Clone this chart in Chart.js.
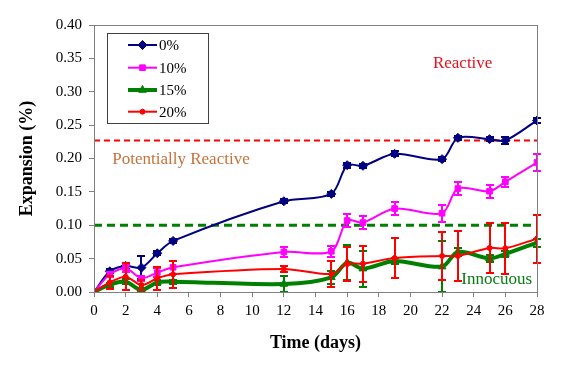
<!DOCTYPE html>
<html><head><meta charset="utf-8">
<script src="https://cdn.jsdelivr.net/npm/chart.js@4.4.0/dist/chart.umd.min.js"></script>
<style>html,body{margin:0;padding:0;background:#fff}</style>
</head><body>
<canvas id="c" width="576" height="366"></canvas>
<script>
// ---- data ----
const days   = [0, 1, 2, 3, 4, 5, 12, 15, 16, 17, 19, 22, 23, 25, 26, 28];
const exp0   = [0, 0.031, 0.039, 0.0365, 0.058, 0.0765, 0.136, 0.147, 0.190, 0.189, 0.207, 0.199, 0.231, 0.229, 0.227, 0.257];
const err0   = [0, 0.003, 0.005, 0.017, 0.003, 0.003, 0.003, 0.003, 0.004, 0.003, 0.004, 0.003, 0.003, 0.003, 0.005, 0.004];
const exp10  = [0, 0.0265, 0.0355, 0.0205, 0.029, 0.037, 0.060, 0.061, 0.107, 0.104, 0.125, 0.118, 0.155, 0.151, 0.165, 0.194];
const err10  = [0, 0.004, 0.005, 0.004, 0.007, 0.01, 0.007, 0.0085, 0.01, 0.01, 0.01, 0.0125, 0.01, 0.01, 0.007, 0.012];
const exp15  = [0, 0.011, 0.0155, 0.003, 0.0145, 0.0155, 0.012, 0.022, 0.044, 0.035, 0.0465, 0.038, 0.060, 0.0505, 0.057, 0.074];
const err15  = [0, 0.003, 0.004, 0.003, 0.004, 0.003, 0.012, 0.01, 0.026, 0.027, 0.005, 0.038, 0.006, 0.005, 0.005, 0.006];
const exp20  = [0, 0.0145, 0.023, 0.0105, 0.0205, 0.0265, 0.0345, 0.027, 0.042, 0.0425, 0.051, 0.054, 0.054, 0.066, 0.0655, 0.080];
const err20  = [0, 0.01, 0.02, 0.008, 0.017, 0.02, 0.004, 0.019, 0.025, 0.027, 0.03, 0.036, 0.037, 0.037, 0.038, 0.036];
const seriesNames = ['0%', '10%', '15%', '20%'];
const limitDays = [0, 28];
const reactiveLimit = [0.227, 0.227];
const innocuousLimit = [0.10, 0.10];
const labelTexts = ['Reactive', 'Potentially Reactive', 'Innocuous'];
const labelDays  = [23.3, 5.5, 25.45];
const labelExp   = [0.343, 0.1985, 0.018];
const yTitle = 'Expansion (%)';
const xTitle = 'Time (days)';

const FONT = "'Liberation Serif', 'Times New Roman', serif";
const pts = (arr) => days.map((d, i) => ({x: d, y: arr[i]}));
const line2 = (ys) => limitDays.map((d, i) => ({x: d, y: ys[i]}));

const series = [
  {label: seriesNames[0], data: pts(exp0), errors: err0, borderColor: '#000080', backgroundColor: '#000080', borderWidth: 2, pointStyle: 'rectRot', pointRadius: 4.5, order: 4},
  {label: seriesNames[1], data: pts(exp10), errors: err10, borderColor: '#FF00FF', backgroundColor: '#FF00FF', borderWidth: 2, pointStyle: 'rect', pointRadius: 4, order: 3},
  {label: seriesNames[2], data: pts(exp15), errors: err15, borderColor: '#008000', backgroundColor: '#008000', borderWidth: 4, pointStyle: 'triangle', pointRadius: 4.5, order: 2},
  {label: seriesNames[3], data: pts(exp20), errors: err20, borderColor: '#FF0000', backgroundColor: '#FF0000', borderWidth: 2, pointStyle: 'circle', pointRadius: 2.5, order: 1},
];
series.forEach(s => { s.tension = 0.3; s.pointBorderWidth = 1; s.pointBorderColor = s.borderColor; s.pointBackgroundColor = s.borderColor; s.isSeries = true; });

const limits = [
  {label: 'reactive', data: line2(reactiveLimit), borderColor: '#FF0000', borderWidth: 2, borderDash: [6, 4], pointRadius: 0, order: 10, tension: 0},
  {label: 'innocuous', data: line2(innocuousLimit), borderColor: '#008000', borderWidth: 3, borderDash: [8, 5], pointRadius: 0, order: 11, tension: 0},
];

const errorBars = {
  id: 'errorBars',
  afterDatasetDraw(chart, args) {
    const ds = chart.data.datasets[args.index];
    if (!ds.errors) return;
    const ctx = chart.ctx, xs = chart.scales.x, ys = chart.scales.y, a = chart.chartArea;
    ctx.save();
    ctx.beginPath(); ctx.rect(a.left - 5, a.top, a.right - a.left + 10, a.bottom - a.top + 2); ctx.clip();
    ctx.strokeStyle = ds.borderColor; ctx.lineWidth = 2;
    ds.data.forEach((p, i) => {
      const e = ds.errors[i]; if (!e) return;
      const x = Math.round(xs.getPixelForValue(p.x));
      const yt = Math.round(ys.getPixelForValue(p.y + e)), yb = Math.round(ys.getPixelForValue(p.y - e));
      ctx.beginPath();
      ctx.moveTo(x, yt); ctx.lineTo(x, yb);
      ctx.moveTo(x - 4, yt); ctx.lineTo(x + 4, yt);
      ctx.moveTo(x - 4, yb); ctx.lineTo(x + 4, yb);
      ctx.stroke();
    });
    ctx.restore();
  }
};

const decor = {
  id: 'decor',
  afterDraw(chart) {
    const ctx = chart.ctx, a = chart.chartArea, xs = chart.scales.x, ys = chart.scales.y;
    ctx.save();
    ctx.strokeStyle = '#808080'; ctx.lineWidth = 1;
    ctx.strokeRect(Math.round(a.left) + 0.5, Math.round(a.top) + 0.5, Math.round(a.right - a.left), Math.round(a.bottom - a.top));
    // zone labels
    const cols = ['#E8101C', '#C5733A', '#0A7A14'];
    ctx.font = '17px ' + FONT; ctx.textAlign = 'center'; ctx.textBaseline = 'middle';
    labelTexts.forEach((t, i) => {
      ctx.fillStyle = cols[i];
      ctx.fillText(t, xs.getPixelForValue(labelDays[i]), ys.getPixelForValue(labelExp[i]));
    });
    // legend box
    const lx = 107, ly = 33, lw = 101, lh = 90;
    ctx.fillStyle = '#fff'; ctx.fillRect(lx, ly, lw, lh);
    ctx.strokeStyle = '#404040'; ctx.strokeRect(lx + 0.5, ly + 0.5, lw, lh);
    const rows = [45, 67.7, 90, 111.7];
    const sets = chart.data.datasets.filter(d => d.isSeries);
    sets.forEach((d, i) => {
      const y = rows[i];
      ctx.strokeStyle = d.borderColor; ctx.lineWidth = d.borderWidth;
      ctx.beginPath(); ctx.moveTo(128, y); ctx.lineTo(157, y); ctx.stroke();
      ctx.fillStyle = d.borderColor; ctx.lineWidth = 1;
      Chart.helpers.drawPoint(ctx, {pointStyle: d.pointStyle, radius: d.pointRadius, borderWidth: 1}, 142.5, y);
      ctx.fillStyle = '#000'; ctx.font = '15px ' + FONT; ctx.textAlign = 'left'; ctx.textBaseline = 'middle';
      ctx.fillText(d.label, 159, y + 1);
    });
    ctx.restore();
  }
};

new Chart(document.getElementById('c'), {
  type: 'line',
  data: {datasets: [...series, ...limits]},
  options: {
    responsive: false, animation: false, devicePixelRatio: 1,
    layout: {padding: {top: 25, right: 39, left: 0, bottom: 0}},
    plugins: {legend: {display: false}, tooltip: {enabled: false}},
    scales: {
      x: {
        type: 'linear', min: 0, max: 28,
        ticks: {stepSize: 2, color: '#000', font: {family: FONT, size: 15}, padding: 5, maxRotation: 0},
        grid: {drawOnChartArea: false, drawTicks: true, tickLength: 5, color: '#808080'},
        border: {color: '#808080'},
        title: {display: true, text: xTitle, color: '#000', font: {family: FONT, size: 18, weight: 'bold'}, padding: {top: 0, bottom: 12}},
        afterFit(s) { s.height = 74; }
      },
      y: {
        type: 'linear', min: 0, max: 0.4,
        ticks: {stepSize: 0.05, color: '#000', font: {family: FONT, size: 15}, padding: 7, callback: v => v.toFixed(2)},
        grid: {drawOnChartArea: false, drawTicks: true, tickLength: 5, color: '#808080'},
        border: {color: '#808080'},
        title: {display: true, text: yTitle, color: '#000', font: {family: FONT, size: 18, weight: 'bold'}, padding: {top: 17, bottom: 0}},
        afterFit(s) { s.width = 94; }
      }
    }
  },
  plugins: [errorBars, decor]
});
</script>
</body></html>
